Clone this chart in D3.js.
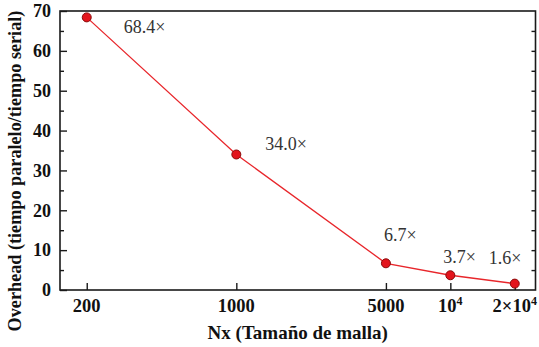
<!DOCTYPE html>
<html>
<head>
<meta charset="utf-8">
<script src="https://cdn.jsdelivr.net/npm/d3@7/dist/d3.min.js"></script>
<style>
  html, body { margin: 0; padding: 0; background: #fff; }
  svg { display: block; }
</style>
</head>
<body>
<svg id="chart" width="539" height="347"></svg>
<script>
// Mesh sizes (Nx) and measured overhead ratios
const meshSizes = [200, 1000, 5000, 10000, 20000];
const overhead = [68.4, 34.0, 6.7, 3.7, 1.6];
const valueLabels = ["68.4×", "34.0×", "6.7×", "3.7×", "1.6×"];

// Axis ticks
const xTickValues = [200, 1000, 5000, 10000, 20000];
const xTickLabels = [["200"], ["1000"], ["5000"], ["10", "4"], ["2×10", "4"]];
const yMajorTicks = [0, 10, 20, 30, 40, 50, 60, 70];
const yMinorTicks = [5, 15, 25, 35, 45, 55, 65];

// Annotation placement relative to each point (dx, dy of text baseline start)
const labelOffsets = [[37, 16], [29, -4], [-2, -22], [-7, -12], [-26, -20]];

const FONT = '"Liberation Serif", "Times New Roman", serif';
const svg = d3.select("#chart");
const plotLeft = 60, plotRight = 535.5, plotTop = 11, plotBottom = 290;

const x = d3.scaleLog().domain([150, 25000]).range([plotLeft, plotRight]);
const y = d3.scaleLinear().domain([0, 70]).range([plotBottom, plotTop]);

const axisColor = "#1a1a1a";

// Frame
svg.append("rect")
  .attr("x", plotLeft).attr("y", plotTop)
  .attr("width", plotRight - plotLeft).attr("height", plotBottom - plotTop)
  .attr("fill", "none").attr("stroke", axisColor).attr("stroke-width", 1.6);

// Left axis: major ticks with labels, minor ticks inward
const yAxis = d3.axisLeft(y).tickValues(yMajorTicks).tickSize(-7).tickPadding(10)
  .tickFormat(d3.format("d"));
const gy = svg.append("g").attr("transform", `translate(${plotLeft},0)`).call(yAxis);
gy.select(".domain").remove();
gy.selectAll(".tick line").attr("stroke", axisColor).attr("stroke-width", 1.4);
gy.selectAll(".tick text")
  .style("font-family", FONT)
  .style("font-size", "18px").style("font-weight", "bold").attr("fill", "#111")
  .attr("x", -9);

const gyMinor = svg.append("g").attr("transform", `translate(${plotLeft},0)`)
  .call(d3.axisLeft(y).tickValues(yMinorTicks).tickSize(-4).tickFormat(""));
gyMinor.select(".domain").remove();
gyMinor.selectAll(".tick line").attr("stroke", axisColor).attr("stroke-width", 1.4);

// Right axis: mirrored short ticks
const gr = svg.append("g").attr("transform", `translate(${plotRight},0)`)
  .call(d3.axisRight(y).tickValues(yMajorTicks.concat(yMinorTicks).filter(v => v > 0 && v < 70))
    .tickSize(-4).tickFormat(""));
gr.select(".domain").remove();
gr.selectAll(".tick line").attr("stroke", axisColor).attr("stroke-width", 1.4);

// Bottom axis
const gx = svg.append("g").attr("transform", `translate(0,${plotBottom})`)
  .call(d3.axisBottom(x).tickValues(xTickValues).tickSize(-7).tickFormat(""));
gx.select(".domain").remove();
gx.selectAll(".tick line").attr("stroke", axisColor).attr("stroke-width", 1.4);

// Bottom tick labels (with superscript exponents)
xTickValues.forEach((v, i) => {
  const parts = xTickLabels[i];
  const t = svg.append("text")
    .attr("x", x(v)).attr("y", plotBottom + 22)
    .attr("text-anchor", "middle")
    .style("font-family", FONT)
    .style("font-size", "18.5px").style("font-weight", "bold").attr("fill", "#111");
  t.append("tspan").text(parts[0]);
  if (parts.length > 1) {
    t.append("tspan").attr("dy", -7).style("font-size", "12px").text(parts[1]);
  }
});

// Axis titles
svg.append("text")
  .attr("x", (plotLeft + plotRight) / 2).attr("y", 339)
  .attr("text-anchor", "middle")
  .style("font-family", FONT)
  .style("font-size", "19px").style("font-weight", "bold").attr("fill", "#111")
  .text("Nx (Tamaño de malla)");

svg.append("text")
  .attr("transform", "translate(21,171) rotate(-90)")
  .attr("text-anchor", "middle")
  .style("font-family", FONT)
  .style("font-size", "18.2px").style("font-weight", "bold").attr("fill", "#111")
  .text("Overhead (tiempo paralelo/tiempo serial)");

// Series line
const pts = meshSizes.map((n, i) => [n, overhead[i]]);
svg.append("path")
  .datum(pts)
  .attr("fill", "none")
  .attr("stroke", "#e8262b")
  .attr("stroke-width", 1.3)
  .attr("d", d3.line().x(d => x(d[0])).y(d => y(d[1])));

// Markers
svg.selectAll("circle.pt").data(pts).enter().append("circle")
  .attr("class", "pt")
  .attr("cx", d => x(d[0])).attr("cy", d => y(d[1]))
  .attr("r", 4.5)
  .attr("fill", "#e3141c").attr("stroke", "#8a0a0a").attr("stroke-width", 1);

// Value annotations
svg.selectAll("text.val").data(pts).enter().append("text")
  .attr("class", "val")
  .attr("x", (d, i) => x(d[0]) + labelOffsets[i][0])
  .attr("y", (d, i) => y(d[1]) + labelOffsets[i][1])
  .style("font-family", FONT)
  .style("font-size", "18px").attr("fill", "#333")
  .text((d, i) => valueLabels[i]);
</script>
</body>
</html>
